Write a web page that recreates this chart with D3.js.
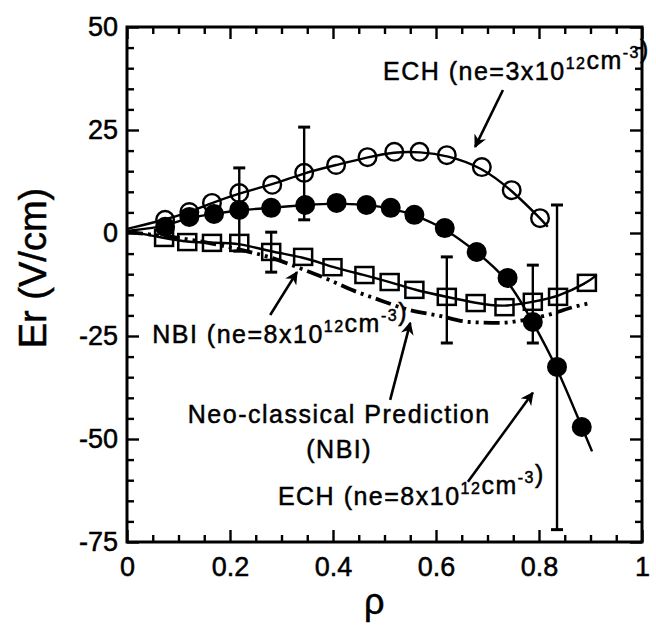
<!DOCTYPE html>
<html>
<head>
<meta charset="utf-8">
<script src="https://cdn.jsdelivr.net/npm/d3@7"></script>
<style>
  html, body { margin: 0; padding: 0; background: #fff; }
  svg { display: block; }
  text { font-family: "Liberation Sans", Arial, Helvetica, sans-serif; fill: #000; stroke: #000; stroke-width: 0.5px; }
</style>
</head>
<body>
<svg id="chart" width="656" height="633"></svg>
<script>
// ---- data ----
// ECH (ne = 3x10^12 cm^-3): open circles
const rhoOpen = [0.074, 0.121, 0.165, 0.218, 0.282, 0.344, 0.406, 0.467, 0.519, 0.568, 0.621, 0.689, 0.747, 0.802];
const erOpen  = [3.2, 5.1, 7.3, 9.7, 11.7, 14.6, 16.5, 18.4, 19.7, 19.7, 18.9, 16.0, 10.4, 3.6];
// ECH (ne = 8x10^12 cm^-3): filled circles
const rhoFilled = [0.074, 0.121, 0.169, 0.218, 0.280, 0.346, 0.407, 0.465, 0.512, 0.558, 0.617, 0.679, 0.739, 0.788, 0.835, 0.883];
const erFilled  = [1.5, 3.9, 4.6, 5.6, 6.1, 6.8, 7.3, 6.8, 6.1, 4.4, 1.2, -4.6, -10.9, -21.6, -32.5, -47.1];
// NBI (ne = 8x10^12 cm^-3): open squares
const rhoSquare = [0.072, 0.117, 0.165, 0.218, 0.280, 0.342, 0.399, 0.461, 0.510, 0.558, 0.621, 0.677, 0.733, 0.788, 0.837, 0.893];
const erSquare  = [-1.2, -2.2, -2.4, -2.4, -4.6, -5.8, -8.3, -10.2, -11.9, -13.8, -15.5, -17.0, -18.0, -16.7, -15.5, -12.1];
// fit-curve end points (start at axis, end beyond last point)
const fitOpenStart = [0, 1.0],   fitOpenEnd = [0.817, 1.5];
const fitFilledStart = [0, 0.5], fitFilledEnd = [0.903, -53];
const fitSquareStart = [0, 0.5], fitSquareEnd = [0.912, -10.2];
// neo-classical prediction (NBI)
const rhoNeo = [0, 0.10, 0.218, 0.28, 0.335, 0.393, 0.436, 0.48, 0.549, 0.607, 0.665, 0.724, 0.772, 0.817, 0.866, 0.899];
const erNeo  = [0.2, -1.2, -4.0, -6.0, -8.5, -11.4, -13.8, -15.8, -18.7, -20.1, -21.6, -21.8, -21.1, -19.9, -18.0, -17.0];
// error bars
const errRho  = [0.218, 0.344, 0.280, 0.621, 0.788, 0.835];
const errLow  = [-4.4, 3.2, -9.5, -26.7, -26.7, -72.0];
const errHigh = [15.8, 25.7, 0.2, -5.8, -7.8, 6.8];
// axes
const xMajor = [0, 0.2, 0.4, 0.6, 0.8, 1];
const xMajorLabels = ["0", "0.2", "0.4", "0.6", "0.8", "1"];
const yMajor = [-75, -50, -25, 0, 25, 50];
const yMajorLabels = ["-75", "-50", "-25", "0", "25", "50"];
const xTitle = "\u03c1";
const yTitle = "Er (V/cm)";

// ---- layout ----
const svg = d3.select("#chart");
const L = 127, R = 642, T = 27, B = 542;
const x = d3.scaleLinear().domain([0, 1]).range([L, R]);
const y = d3.scaleLinear().domain([-75, 50]).range([B, T]);

const xMinor = d3.range(0, 1.0001, 0.05).map(v => +v.toFixed(2)).filter(v => !xMajor.includes(v));
const yMinor = d3.range(-75, 50.001, 5).filter(v => !yMajor.includes(v));

function styleAxis(g) {
  g.select(".domain").remove();
  g.selectAll(".tick line").attr("stroke", "#000").attr("stroke-width", 2.4);
}
// major ticks with labels
svg.append("g").attr("transform", `translate(0,${B})`)
  .call(d3.axisBottom(x).tickValues(xMajor).tickSize(-12).tickPadding(15)
        .tickFormat((d, i) => xMajorLabels[i]))
  .call(styleAxis)
  .call(g => g.selectAll("text").attr("font-size", 27).attr("fill", "#000")
        .attr("font-family", "Liberation Sans, Arial, sans-serif"));
svg.append("g").attr("transform", `translate(${L},0)`)
  .call(d3.axisLeft(y).tickValues(yMajor).tickSize(-12).tickPadding(9)
        .tickFormat((d, i) => yMajorLabels[i]))
  .call(styleAxis)
  .call(g => g.selectAll("text").attr("font-size", 27).attr("fill", "#000")
        .attr("font-family", "Liberation Sans, Arial, sans-serif"));
svg.append("g").attr("transform", `translate(0,${T})`)
  .call(d3.axisTop(x).tickValues(xMajor).tickSize(-12).tickFormat(""))
  .call(styleAxis);
svg.append("g").attr("transform", `translate(${R},0)`)
  .call(d3.axisRight(y).tickValues(yMajor).tickSize(-12).tickFormat(""))
  .call(styleAxis);
// minor ticks
svg.append("g").attr("transform", `translate(0,${B})`)
  .call(d3.axisBottom(x).tickValues(xMinor).tickSize(-7).tickFormat("")).call(styleAxis);
svg.append("g").attr("transform", `translate(0,${T})`)
  .call(d3.axisTop(x).tickValues(xMinor).tickSize(-7).tickFormat("")).call(styleAxis);
svg.append("g").attr("transform", `translate(${L},0)`)
  .call(d3.axisLeft(y).tickValues(yMinor).tickSize(-7).tickFormat("")).call(styleAxis);
svg.append("g").attr("transform", `translate(${R},0)`)
  .call(d3.axisRight(y).tickValues(yMinor).tickSize(-7).tickFormat("")).call(styleAxis);

// frame
svg.append("rect").attr("x", L).attr("y", T).attr("width", R - L).attr("height", B - T)
  .attr("fill", "none").attr("stroke", "#000").attr("stroke-width", 3);

// axis titles
svg.append("text").attr("x", x(0.48)).attr("y", 614).attr("text-anchor", "middle")
  .attr("font-size", 36).text(xTitle);
svg.append("text").attr("transform", `translate(46,${y(-8.5)}) rotate(-90)`)
  .attr("text-anchor", "middle").attr("font-size", 38).text(yTitle);

// ---- curves ----
const line = d3.line().x(d => x(d[0])).y(d => y(d[1])).curve(d3.curveBasis);
const zip = (a, b) => a.map((v, i) => [v, b[i]]);

svg.append("path").datum(zip(rhoNeo, erNeo)).attr("d", d3.line().x(d => x(d[0])).y(d => y(d[1])).curve(d3.curveMonotoneX))
  .attr("fill", "none").attr("stroke", "#000").attr("stroke-width", 3.8)
  .attr("stroke-dasharray", "16,5,3,5,3,5");

svg.append("path").datum([fitSquareStart, ...zip(rhoSquare, erSquare), fitSquareEnd]).attr("d", line)
  .attr("fill", "none").attr("stroke", "#000").attr("stroke-width", 2.4);
svg.append("path").datum([fitFilledStart, ...zip(rhoFilled, erFilled), fitFilledEnd]).attr("d", line)
  .attr("fill", "none").attr("stroke", "#000").attr("stroke-width", 2.4);
svg.append("path").datum([fitOpenStart, ...zip(rhoOpen, erOpen), fitOpenEnd]).attr("d", line)
  .attr("fill", "none").attr("stroke", "#000").attr("stroke-width", 2.4);

// ---- error bars ----
const eb = svg.append("g").attr("stroke", "#000").attr("stroke-width", 2.4);
errRho.forEach((r, i) => {
  eb.append("line").attr("x1", x(r)).attr("x2", x(r)).attr("y1", y(errLow[i])).attr("y2", y(errHigh[i]));
  [errLow[i], errHigh[i]].forEach(v => {
    eb.append("line").attr("x1", x(r) - 6).attr("x2", x(r) + 6).attr("y1", y(v)).attr("y2", y(v)).attr("stroke-width", 3);
  });
});

// ---- markers ----
svg.append("g").selectAll("rect").data(zip(rhoSquare, erSquare)).join("rect")
  .attr("x", d => x(d[0]) - 9).attr("y", d => y(d[1]) - 8).attr("width", 18).attr("height", 16)
  .attr("fill", "none").attr("stroke", "#000").attr("stroke-width", 2.5);
svg.append("g").selectAll("circle").data(zip(rhoFilled, erFilled)).join("circle")
  .attr("cx", d => x(d[0])).attr("cy", d => y(d[1])).attr("r", 10).attr("fill", "#000");
svg.append("g").selectAll("circle").data(zip(rhoOpen, erOpen)).join("circle")
  .attr("cx", d => x(d[0])).attr("cy", d => y(d[1])).attr("r", 8.8)
  .attr("fill", "none").attr("stroke", "#000").attr("stroke-width", 2.4);

// ---- annotations (positions in data units) ----
const arrows = [
  { from: [0.730, 34.7], to: [0.676, 20.9] },
  { from: [0.278, -19.9], to: [0.330, -9.5] },
  { from: [0.511, -40.5], to: [0.550, -21.8] },
  { from: [0.662, -60.4], to: [0.788, -38.8] }
];
svg.append("defs").append("marker").attr("id", "ah").attr("viewBox", "0 0 10 10")
  .attr("refX", 9).attr("refY", 5).attr("markerWidth", 5).attr("markerHeight", 5)
  .attr("markerUnits", "strokeWidth").attr("orient", "auto")
  .append("path").attr("d", "M0,0 L10,5 L0,10 L3,5 Z").attr("fill", "#000");
arrows.forEach(a => {
  svg.append("line").attr("x1", x(a.from[0])).attr("y1", y(a.from[1]))
    .attr("x2", x(a.to[0])).attr("y2", y(a.to[1]))
    .attr("stroke", "#000").attr("stroke-width", 2.6).attr("marker-end", "url(#ah)");
});

function label(px, py, parts, anchor) {
  const t = svg.append("text").attr("x", px).attr("y", py).attr("font-size", 25)
    .attr("letter-spacing", 1.5).attr("text-anchor", anchor || "start");
  parts.forEach(p => {
    if (p.sup) {
      t.append("tspan").attr("dy", -11).attr("font-size", 16).text(p.sup);
      t.append("tspan").attr("dy", 11).text("");
    } else {
      t.append("tspan").text(p.t);
    }
  });
}
const ne = (n) => [{ t: "(ne=" + n + "x10" }, { sup: "12" }, { t: "cm" }, { sup: "-3" }, { t: ")" }];
label(x(0.497), y(37.1), [{ t: "ECH " }, ...ne("3")]);
label(x(0.049), y(-26.7), [{ t: "NBI " }, ...ne("8")]);
label(x(0.118), y(-46.1), [{ t: "Neo-classical Prediction" }]);
label(x(0.412), y(-54.6), [{ t: "(NBI)" }], "middle");
label(x(0.293), y(-66.0), [{ t: "ECH " }, ...ne("8")]);
</script>
</body>
</html>
